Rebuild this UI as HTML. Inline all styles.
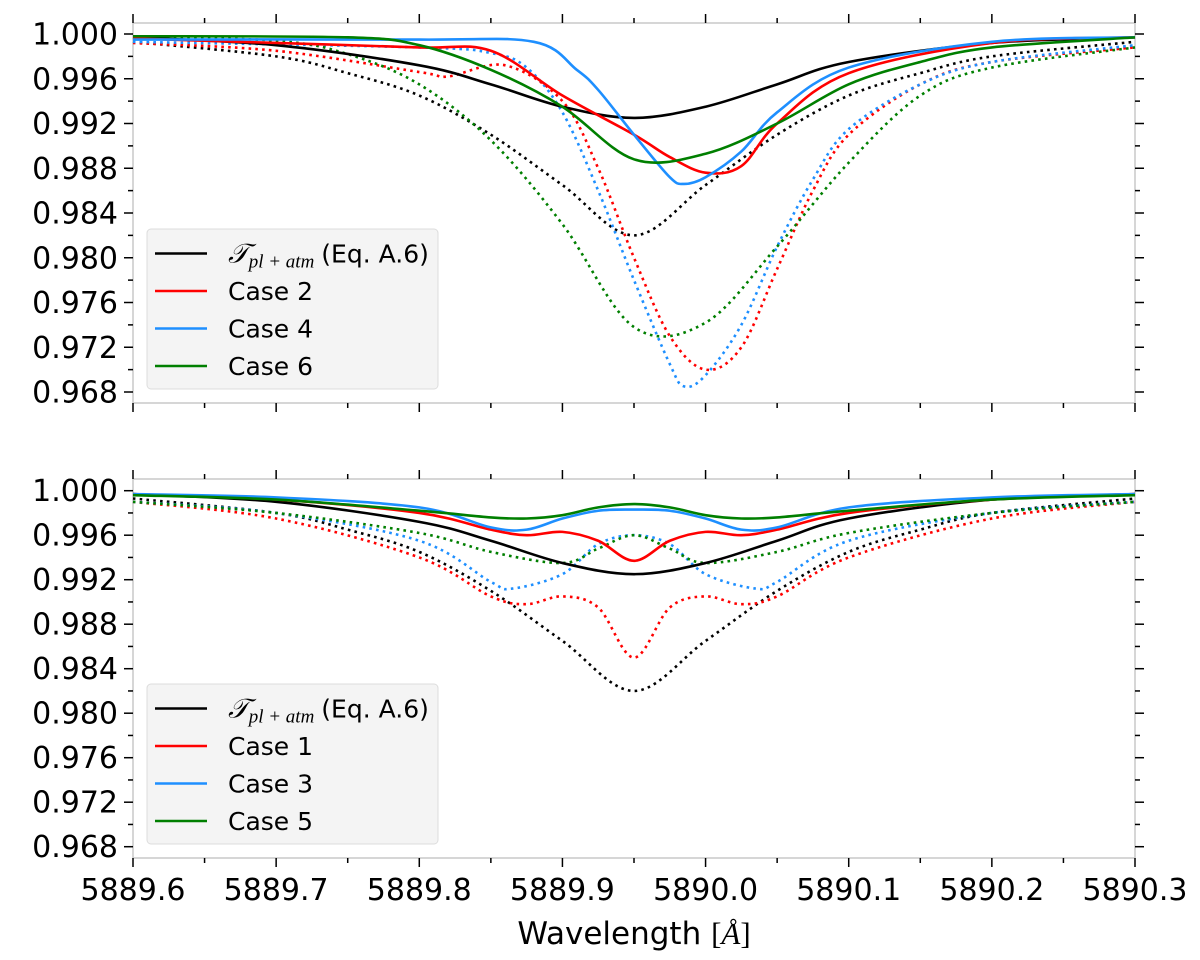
<!DOCTYPE html>
<html><head><meta charset="utf-8">
<style>
html,body{margin:0;padding:0;background:#fff;}
svg text{font-family:"DejaVu Sans","Liberation Sans",sans-serif;fill:#000;}
</style></head>
<body>
<svg id="chart" width="1200" height="955" viewBox="0 0 1200 955" xmlns="http://www.w3.org/2000/svg"></svg>
<script>
// ---------- data ----------
const xTicks = [5889.6, 5889.7, 5889.8, 5889.9, 5890.0, 5890.1, 5890.2, 5890.3];
const xTickLabels = ["5889.6","5889.7","5889.8","5889.9","5890.0","5890.1","5890.2","5890.3"];
const yTicks = [1.000, 0.996, 0.992, 0.988, 0.984, 0.980, 0.976, 0.972, 0.968];
const yTickLabels = ["1.000","0.996","0.992","0.988","0.984","0.980","0.976","0.972","0.968"];

// top panel
const topBlackX = [5889.6,5889.7,5889.8,5889.85,5889.9,5889.95,5890.0,5890.05,5890.1,5890.2,5890.3];
const topBlackY = [0.9997,0.9990,0.9972,0.9955,0.9935,0.9925,0.9935,0.9955,0.9975,0.9992,0.9997];
const topBlackDotX = [5889.6,5889.7,5889.75,5889.8,5889.85,5889.9,5889.95,5890.0,5890.05,5890.1,5890.15,5890.2,5890.3];
const topBlackDotY = [0.9993,0.9980,0.9965,0.9945,0.9910,0.9865,0.9820,0.9865,0.9910,0.9945,0.9965,0.9980,0.9993];
const topRedX = [5889.6,5889.7,5889.8,5889.85,5889.9,5889.95,5889.975,5890.0,5890.025,5890.05,5890.1,5890.2,5890.3];
const topRedY = [0.9996,0.9992,0.9988,0.9985,0.9945,0.9910,0.9890,0.9876,0.9882,0.9920,0.9965,0.9992,0.9997];
const topRedDotX = [5889.6,5889.7,5889.8,5889.82,5889.86,5889.9,5889.925,5889.95,5889.975,5890.0,5890.025,5890.05,5890.075,5890.1,5890.15,5890.2,5890.3];
const topRedDotY = [0.9992,0.9985,0.9966,0.9962,0.9972,0.9940,0.9880,0.9800,0.9730,0.9700,0.9720,0.9790,0.9860,0.9910,0.9955,0.9975,0.9988];
const topBlueX = [5889.6,5889.8,5889.88,5889.91,5889.925,5889.95,5889.975,5889.985,5890.0,5890.025,5890.05,5890.1,5890.2,5890.3];
const topBlueY = [0.9995,0.9995,0.9993,0.9968,0.9950,0.9910,0.9872,0.9866,0.9872,0.9895,0.9930,0.9970,0.9993,0.9997];
const topBlueDotX = [5889.6,5889.8,5889.85,5889.875,5889.9,5889.925,5889.95,5889.975,5889.985,5890.0,5890.025,5890.05,5890.075,5890.1,5890.15,5890.2,5890.3];
const topBlueDotY = [0.9993,0.9988,0.9983,0.9970,0.9930,0.9860,0.9780,0.9705,0.9685,0.9695,0.9740,0.9810,0.9870,0.9915,0.9955,0.9975,0.9990];
const topGreenX = [5889.6,5889.75,5889.8,5889.85,5889.9,5889.95,5890.0,5890.05,5890.1,5890.15,5890.2,5890.3];
const topGreenY = [0.9998,0.9997,0.9990,0.9968,0.9935,0.9888,0.9893,0.9920,0.9955,0.9975,0.9988,0.9997];
const topGreenDotX = [5889.6,5889.7,5889.75,5889.8,5889.85,5889.9,5889.95,5890.0,5890.05,5890.1,5890.15,5890.2,5890.3];
const topGreenDotY = [0.9997,0.9994,0.9982,0.9955,0.9905,0.9830,0.9738,0.9742,0.9810,0.9885,0.9945,0.9970,0.9988];

// bottom panel
const botBlackX = topBlackX;
const botBlackY = topBlackY;
const botBlackDotX = topBlackDotX;
const botBlackDotY = topBlackDotY;
const botRedX = [5889.6,5889.7,5889.8,5889.85,5889.875,5889.9,5889.925,5889.95,5889.975,5890.0,5890.025,5890.05,5890.1,5890.2,5890.3];
const botRedY = [0.9997,0.9992,0.9980,0.9965,0.9960,0.9963,0.9955,0.9937,0.9955,0.9963,0.9960,0.9965,0.9980,0.9992,0.9997];
const botRedDotX = [5889.6,5889.7,5889.8,5889.85,5889.875,5889.9,5889.925,5889.95,5889.975,5890.0,5890.025,5890.05,5890.1,5890.2,5890.3];
const botRedDotY = [0.9990,0.9975,0.9940,0.9905,0.9898,0.9905,0.9895,0.9850,0.9895,0.9905,0.9898,0.9905,0.9940,0.9975,0.9990];
const botBlueX = [5889.6,5889.7,5889.8,5889.85,5889.875,5889.9,5889.925,5889.95,5889.975,5890.0,5890.025,5890.05,5890.1,5890.2,5890.3];
const botBlueY = [0.9997,0.9994,0.9985,0.9967,0.9965,0.9975,0.9982,0.9983,0.9982,0.9975,0.9965,0.9967,0.9985,0.9994,0.9997];
const botBlueDotX = [5889.6,5889.7,5889.8,5889.85,5889.865,5889.9,5889.925,5889.95,5889.975,5890.0,5890.035,5890.05,5890.1,5890.2,5890.3];
const botBlueDotY = [0.9990,0.9980,0.9955,0.9918,0.9912,0.9925,0.9952,0.9960,0.9952,0.9925,0.9912,0.9918,0.9955,0.9980,0.9990];
const botGreenX = [5889.6,5889.7,5889.8,5889.85,5889.875,5889.9,5889.925,5889.95,5889.975,5890.0,5890.025,5890.05,5890.1,5890.2,5890.3];
const botGreenY = [0.9996,0.9992,0.9982,0.9976,0.9975,0.9978,0.9985,0.9988,0.9985,0.9978,0.9975,0.9976,0.9982,0.9992,0.9996];
const botGreenDotX = [5889.6,5889.7,5889.8,5889.85,5889.9,5889.925,5889.95,5889.975,5890.0,5890.05,5890.1,5890.2,5890.3];
const botGreenDotY = [0.9990,0.9980,0.9962,0.9945,0.9935,0.9948,0.9960,0.9948,0.9935,0.9945,0.9962,0.9980,0.9990];

// ---------- drawing ----------
const NS = "http://www.w3.org/2000/svg";
const svg = document.getElementById("chart");
const L = 133, R = 1135;
const xMin = 5889.6, xMax = 5890.3;
function xs(v){ return L + (v - xMin) / (xMax - xMin) * (R - L); }
function mk(tag, attrs, parent){
  const e = document.createElementNS(NS, tag);
  for (const k in attrs) e.setAttribute(k, attrs[k]);
  (parent || svg).appendChild(e);
  return e;
}
function smoothPath(px, py){
  let d = "M" + px[0].toFixed(2) + "," + py[0].toFixed(2);
  for (let i = 0; i < px.length - 1; i++){
    const x0 = px[Math.max(i-1,0)], y0 = py[Math.max(i-1,0)];
    const x1 = px[i], y1 = py[i], x2 = px[i+1], y2 = py[i+1];
    const x3 = px[Math.min(i+2,px.length-1)], y3 = py[Math.min(i+2,px.length-1)];
    const c1x = x1 + (x2 - x0)/6, c1y = y1 + (y2 - y0)/6;
    const c2x = x2 - (x3 - x1)/6, c2y = y2 - (y3 - y1)/6;
    d += " C" + c1x.toFixed(2)+","+c1y.toFixed(2)+" "+c2x.toFixed(2)+","+c2y.toFixed(2)+" "+x2.toFixed(2)+","+y2.toFixed(2);
  }
  return d;
}

function panel(name, top, bottom, y1000, y0968, series, legendTop, legendLabels, showXLabels){
  const g = mk("g", {});
  
  
  const ys = v => y1000 + (1.000 - v) / 0.032 * (y0968 - y1000);
  const frame = mk("rect", {x:L, y:top, width:R-L, height:bottom-top, fill:"none", stroke:"#c8c8c8", "stroke-width":1.5}, g);
  
  
  yTicks.forEach((t, i) => {
    const y = ys(t);
    mk("line", {x1:L-9, x2:L, y1:y, y2:y, stroke:"#000", "stroke-width":1.5}, g);
    mk("line", {x1:R, x2:R+9, y1:y, y2:y, stroke:"#000", "stroke-width":1.5}, g);
    const tx = mk("text", {x:L-15, y:y+10.5, "font-size":30, "text-anchor":"end"}, g);
    tx.textContent = yTickLabels[i];
    
    
    if (i < yTicks.length - 1){
      const ym = ys(t - 0.002);
      mk("line", {x1:L-5, x2:L, y1:ym, y2:ym, stroke:"#000", "stroke-width":1.5}, g);
      mk("line", {x1:R, x2:R+5, y1:ym, y2:ym, stroke:"#000", "stroke-width":1.5}, g);
    }
  });
  xTicks.forEach((t, i) => {
    const x = xs(t);
    mk("line", {x1:x, x2:x, y1:top-9, y2:top, stroke:"#000", "stroke-width":1.5}, g);
    mk("line", {x1:x, x2:x, y1:bottom, y2:bottom+9, stroke:"#000", "stroke-width":1.5}, g);
    if (i < xTicks.length - 1){
      const xm = xs(t + 0.05);
      mk("line", {x1:xm, x2:xm, y1:top-5, y2:top, stroke:"#000", "stroke-width":1.5}, g);
      mk("line", {x1:xm, x2:xm, y1:bottom, y2:bottom+5, stroke:"#000", "stroke-width":1.5}, g);
    }
    if (showXLabels){
      const tx = mk("text", {x:x, y:bottom+42, "font-size":30, "text-anchor":"middle"}, g);
      tx.textContent = xTickLabels[i];
      
      
    }
  });
  series.forEach(s => {
    const px = s.x.map(xs), py = s.y.map(ys);
    const p = mk("path", {d:smoothPath(px, py), fill:"none", stroke:s.color, "stroke-width":2.6,
      "stroke-dasharray": s.dot ? "2.6 4.2" : "none", "stroke-linejoin":"round"}, g);
    
    
  });
  const lg = mk("g", {}, g);
  
  
  mk("rect", {x:147, y:legendTop, width:291, height:160, rx:4, fill:"#f4f4f4", stroke:"#dcdcdc", "stroke-width":1}, lg);
  const colors = ["#000000", "#ff0000", "#1e8fff", "#007f00"];
  legendLabels.forEach((lab, i) => {
    const y = legendTop + 24.5 + i * 37.5;
    mk("line", {x1:155, x2:207, y1:y, y2:y, stroke:colors[i], "stroke-width":2.6}, lg);
    const t = mk("text", {x:228, y:y+9, "font-size":25}, lg);
    
    
    if (i === 0){
      const a = mk("tspan", {"font-family":"Liberation Serif, DejaVu Serif, serif", "font-style":"italic", "font-size":27}, t);
      a.textContent = "𝒯";
      const b = mk("tspan", {"font-family":"Liberation Serif, DejaVu Serif, serif", "font-style":"italic", "font-size":19, dy:5}, t);
      b.textContent = "pl + atm";
      const c = mk("tspan", {dy:-5, dx:7}, t);
      c.textContent = "(Eq. A.6)";
    } else {
      t.textContent = lab;
    }
  });
}

panel("top-panel", 23, 403, 34, 392, [
  {name:"top-black-dotted", x:topBlackDotX, y:topBlackDotY, color:"#000", dot:true},
  {name:"top-red-dotted", x:topRedDotX, y:topRedDotY, color:"#ff0000", dot:true},
  {name:"top-blue-dotted", x:topBlueDotX, y:topBlueDotY, color:"#1e8fff", dot:true},
  {name:"top-green-dotted", x:topGreenDotX, y:topGreenDotY, color:"#007f00", dot:true},
  {name:"top-black-solid", x:topBlackX, y:topBlackY, color:"#000", dot:false},
  {name:"top-red-solid", x:topRedX, y:topRedY, color:"#ff0000", dot:false},
  {name:"top-blue-solid", x:topBlueX, y:topBlueY, color:"#1e8fff", dot:false},
  {name:"top-green-solid", x:topGreenX, y:topGreenY, color:"#007f00", dot:false}
], 229, ["T", "Case 2", "Case 4", "Case 6"], false);

panel("bottom-panel", 479, 858, 490.7, 846.7, [
  {name:"bottom-black-dotted", x:botBlackDotX, y:botBlackDotY, color:"#000", dot:true},
  {name:"bottom-red-dotted", x:botRedDotX, y:botRedDotY, color:"#ff0000", dot:true},
  {name:"bottom-blue-dotted", x:botBlueDotX, y:botBlueDotY, color:"#1e8fff", dot:true},
  {name:"bottom-green-dotted", x:botGreenDotX, y:botGreenDotY, color:"#007f00", dot:true},
  {name:"bottom-black-solid", x:botBlackX, y:botBlackY, color:"#000", dot:false},
  {name:"bottom-red-solid", x:botRedX, y:botRedY, color:"#ff0000", dot:false},
  {name:"bottom-blue-solid", x:botBlueX, y:botBlueY, color:"#1e8fff", dot:false},
  {name:"bottom-green-solid", x:botGreenX, y:botGreenY, color:"#007f00", dot:false}
], 684, ["T", "Case 1", "Case 3", "Case 5"], true);

const xt = mk("text", {x:634, y:944, "font-size":31, "text-anchor":"middle"});


xt.textContent = "Wavelength ";
const xb = mk("tspan", {"font-family":"Liberation Serif, DejaVu Serif, serif"}, xt);
xb.textContent = "[";
const xa = mk("tspan", {"font-family":"Liberation Serif, DejaVu Serif, serif", "font-style":"italic"}, xt);
xa.textContent = "Å";
const xc = mk("tspan", {"font-family":"Liberation Serif, DejaVu Serif, serif"}, xt);
xc.textContent = "]";
</script>
</body></html>
